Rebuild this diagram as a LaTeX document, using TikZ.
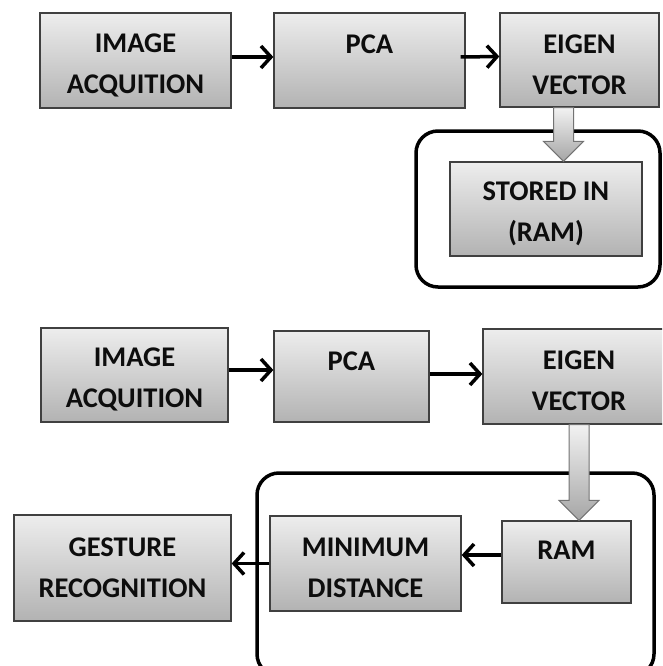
\documentclass[tikz,border=0pt]{standalone}
\usepackage{fontspec}
\setmainfont{Carlito}
\usetikzlibrary{calc,arrows.meta}
\tikzset{blok/.style={draw=black!75,line width=1.3pt,top color=black!7,bottom color=black!30,
    font=\bfseries\fontsize{28.5}{41}\selectfont,text=black!95,align=center,inner sep=0pt},
  flow/.style={draw=black,line width=3.5pt,-{Straight Barb[length=10pt,width=22pt]}},
  frame/.style={line width=3.5pt,rounded corners=22pt},
  fatarr/.style={draw=black!55,line width=1pt,top color=black!5,bottom color=black!35}}

% tall first line, pushes the text down a bit
\newcommand{\tall}{\rule{0pt}{28pt}}
% hollow block arrow, #1 = start, #2 = tip
\newcommand{\fatarrow}[2]{%
  \path[fatarr] let \p1=#1, \p2=#2 in
    (\x2-10pt,\y1) -- (\x2+10pt,\y1) -- (\x2+10pt,\y2+20pt) -- (\x2+20pt,\y2+20pt)
    -- (\x2,\y2) -- (\x2-20pt,\y2+20pt) -- (\x2-10pt,\y2+20pt) -- cycle;}

\begin{document}
\begin{tikzpicture}[x=1pt,y=-1pt]
\useasboundingbox (0,0) rectangle (662,666);
\clip (0,0) rectangle (662,666);

% training
\node[blok,minimum width=191pt,minimum height=95pt] (img1) at (135.5,60.5) {\tall IMAGE\\ACQUITION};
\node[blok,minimum width=191pt,minimum height=95pt] (pca1) at (369.5,60.5) {\tall PCA\\\mbox{}};
\node[blok,minimum width=159pt,minimum height=94pt] (eig1) at (579.5,60) {\tall EIGEN\\VECTOR};
\draw[frame] (416,131) rectangle (660,287);
\node[blok,minimum width=192pt,minimum height=94pt] (store1) at (546,209) {\tall STORED IN\\(RAM)};
\draw[flow] ([yshift=3.5pt]img1.east) -- ([yshift=3.5pt]pca1.west);
\draw[flow] ([xshift=-5pt,yshift=3.5pt]pca1.east) -- ([yshift=3.5pt]eig1.west);
\fatarrow{([xshift=-16pt]eig1.south)}{([xshift=-16pt]eig1.south |- store1.north)}

% testing
\node[blok,minimum width=187pt,minimum height=94pt] (img2) at (134.5,375) {\tall IMAGE\\ACQUITION};
\node[blok,minimum width=155pt,minimum height=91pt] (pca2) at (351.5,376.5) {\tall PCA\\\mbox{}};
\node[blok,minimum width=192pt,minimum height=95pt] (eig2) at (579,376.5) {\tall EIGEN\\VECTOR};
\draw[frame] (257,473) rectangle (654,676);
\node[blok,minimum width=129pt,minimum height=82pt] (ram2) at (566.5,562) {\rule{0pt}{36pt}RAM\\\mbox{}};
\node[blok,minimum width=191pt,minimum height=95pt] (mind) at (365.5,563.5) {\tall MINIMUM\\DISTANCE};
\node[blok,minimum width=217pt,minimum height=106pt] (gest) at (122.5,568) {GESTURE\\RECOGNITION};
\draw[flow] ([yshift=5pt]img2.east) -- ([yshift=5pt]img2.east -| pca2.west);
\draw[flow] ([yshift=2.5pt]pca2.east) -- ([yshift=2.5pt]pca2.east -| eig2.west);
\draw[flow] ([yshift=7pt]ram2.west) -- ([yshift=7pt]ram2.west -| mind.east);
\draw[flow] (mind.west) -- (mind.west -| gest.east);
\fatarrow{(eig2.south)}{(eig2.south |- ram2.north)}
\end{tikzpicture}
\end{document}
